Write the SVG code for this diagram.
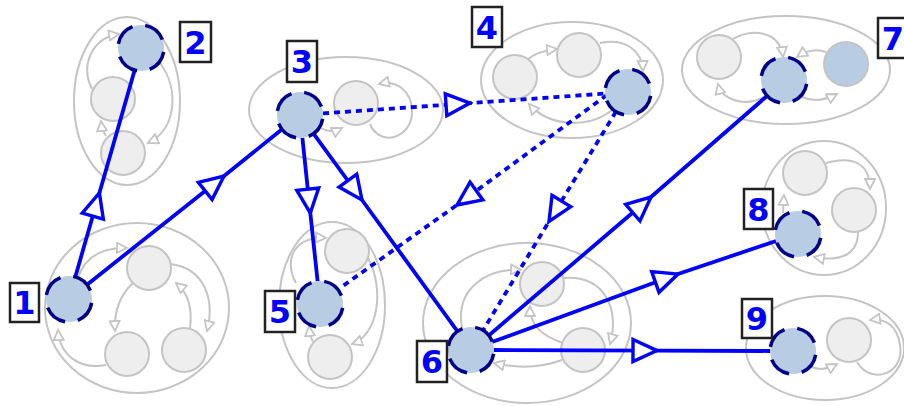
<svg xmlns="http://www.w3.org/2000/svg" width="904" height="406" viewBox="0 0 904 406">
<style>
.cl{fill:none;stroke:#c4c4c4;stroke-width:2}
.gn{fill:#eeeeee;stroke:#c4c4c4;stroke-width:2}
.bn{fill:#b8cce4;stroke:#c4c4c4;stroke-width:2}
.hn{fill:#b8cce4;stroke:#00008b;stroke-width:3.5;stroke-dasharray:23 13}
.ie{fill:none;stroke:#c4c4c4;stroke-width:2;marker-end:url(#ga)}
.e{fill:none;stroke:#0000ff;stroke-width:3.8;marker-mid:url(#ba)}
.d{stroke-dasharray:6 5}
.lb{fill:#ffffff;stroke:#222222;stroke-width:2.5}
.lt{fill:#0000ff;font-family:"DejaVu Sans",sans-serif;font-weight:bold;font-size:32px;text-anchor:middle}
</style>
<defs>
<marker id="ga" markerUnits="userSpaceOnUse" viewBox="-1 -1 13 12" markerWidth="13" markerHeight="12" refX="10" refY="5" orient="auto">
<path d="M0,0 L10,5 L0,10 z" fill="#ffffff" stroke="#c4c4c4" stroke-width="1.8"/>
</marker>
<marker id="ba" markerUnits="userSpaceOnUse" viewBox="-28 -15 31 30" markerWidth="31" markerHeight="30" refX="0" refY="0" orient="auto">
<path d="M-24,-11 L0,0 L-24,11 z" fill="#ffffff" stroke="#0000ff" stroke-width="3.4" stroke-linejoin="miter"/>
</marker>
</defs>
<rect width="904" height="406" fill="#ffffff"/>
<g id="clusters">
<ellipse class="cl" cx="137" cy="308" rx="92" ry="85"/>
<ellipse class="cl" cx="127" cy="101" rx="53" ry="84"/>
<ellipse class="cl" cx="346" cy="110" rx="97" ry="53"/>
<ellipse class="cl" cx="572" cy="80" rx="91" ry="58"/>
<ellipse class="cl" cx="332" cy="305" rx="53" ry="83"/>
<ellipse class="cl" cx="527" cy="323" rx="104" ry="80"/>
<ellipse class="cl" cx="786" cy="70" rx="104" ry="54"/>
<ellipse class="cl" cx="824" cy="208" rx="62" ry="67"/>
<ellipse class="cl" cx="825" cy="348" rx="79" ry="52"/>
</g>
<g id="inner-connectors">
<path class="ie" d="M78,278 Q88,247 127,248"/>
<path class="ie" d="M170,264 C205,268 215,300 207,331"/>
<path class="ie" d="M190,328 C193,305 187,292 176,283"/>
<path class="ie" d="M133,283 C120,295 114,310 115,331"/>
<path class="ie" d="M106,365 C80,370 60,356 58,330"/>
<path class="ie" d="M92,89 C80,65 92,38 119,34"/>
<path class="ie" d="M160,63 C180,90 176,130 148,143"/>
<path class="ie" d="M106,136 Q102,130 101,121"/>
<path class="ie" d="M321,128 Q330,134 342,128"/>
<path class="ie" d="M370,124 C380,148 412,138 412,112 C412,90 396,80 379,84"/>
<path class="ie" d="M527,60 Q537,51 557,49"/>
<path class="ie" d="M600,43 C625,38 642,50 643,71"/>
<path class="ie" d="M612,110 C590,128 550,128 529,104"/>
<path class="ie" d="M296,283 C284,262 292,236 326,238"/>
<path class="ie" d="M368,258 C385,290 378,335 352,344"/>
<path class="ie" d="M313,342 Q310,336 309,326"/>
<path class="ie" d="M462,328 C455,290 485,268 521,270"/>
<path class="ie" d="M564,278 C605,275 620,310 610,344"/>
<path class="ie" d="M562,360 C540,368 515,368 494,363"/>
<path class="ie" d="M563,343 C540,335 530,325 530,306"/>
<path class="ie" d="M733,39 C750,28 780,30 783,57"/>
<path class="ie" d="M766,96 C745,108 722,100 718,84"/>
<path class="ie" d="M826,52 Q812,47 797,57"/>
<path class="ie" d="M802,97 Q818,104 837,94"/>
<path class="ie" d="M826,163 C855,155 870,165 870,189"/>
<path class="ie" d="M858,232 C858,255 840,262 814,257"/>
<path class="ie" d="M783,213 L784,195"/>
<path class="ie" d="M812,367 Q822,372 837,364"/>
<path class="ie" d="M857,362 C870,385 905,375 900,345 C897,325 885,318 870,320"/>
</g>
<g id="gray-nodes">
<g id="n1a"><circle class="gn" cx="149" cy="268" r="22"/></g>
<g id="n1b"><circle class="gn" cx="127" cy="354" r="22"/></g>
<g id="n1c"><circle class="gn" cx="184" cy="350" r="22"/></g>
<g id="n2a"><circle class="gn" cx="113" cy="99" r="22"/></g>
<g id="n2b"><circle class="gn" cx="123" cy="153" r="22"/></g>
<g id="n3a"><circle class="gn" cx="356" cy="103" r="22"/></g>
<g id="n4a"><circle class="gn" cx="515" cy="77" r="22"/></g>
<g id="n4b"><circle class="gn" cx="579" cy="55" r="22"/></g>
<g id="n5a"><circle class="gn" cx="347" cy="251" r="22"/></g>
<g id="n5b"><circle class="gn" cx="330" cy="357" r="22"/></g>
<g id="n6a"><circle class="gn" cx="542" cy="284" r="22"/></g>
<g id="n6b"><circle class="gn" cx="583" cy="350" r="22"/></g>
<g id="n7a"><circle class="gn" cx="719" cy="57" r="22"/></g>
<g id="n7b"><circle class="bn" cx="846" cy="64" r="22"/></g>
<g id="n8a"><circle class="gn" cx="805" cy="173" r="22"/></g>
<g id="n8b"><circle class="gn" cx="854" cy="210" r="22"/></g>
<g id="n9a"><circle class="gn" cx="849" cy="340" r="22"/></g>
</g>
<g id="connectors">
<polyline class="e" points="75.3,276.9 99.4,193 134.7,70.1"/>
<polyline class="e" points="87,284.7 224,176 282,129.3"/>
<polyline class="e" points="302.4,137.9 310.3,213 317.6,281.1"/>
<polyline class="e" points="313.5,133.6 362,200 457.5,331.4"/>
<polyline class="e d" points="323,113.4 470,103.1 605,93.6"/>
<polyline class="e d" points="607,95 457,205 340,288"/>
<polyline class="e d" points="616,111.6 549,221.5 483,330.4"/>
<polyline class="e" points="487,337 651,197 767,96"/>
<polyline class="e" points="492,342 678,274 776,241"/>
<polyline class="e" points="494,350 657,350.6 770,351"/>
</g>
<g id="node1"><circle class="hn" cx="69" cy="299" r="23" stroke-dashoffset="-4"/><rect class="lb" x="10" y="283" width="29" height="39"/><text class="lt" x="24.5" y="314">1</text></g>
<g id="node2"><circle class="hn" cx="141" cy="48" r="23" stroke-dashoffset="-4"/><rect class="lb" x="180" y="22" width="31" height="40"/><text class="lt" x="195.5" y="54">2</text></g>
<g id="node3"><circle class="hn" cx="300" cy="115" r="23" stroke-dashoffset="-4"/><rect class="lb" x="287" y="41" width="30" height="41"/><text class="lt" x="302" y="73">3</text></g>
<g id="node4"><circle class="hn" cx="628" cy="92" r="23" stroke-dashoffset="-4"/><rect class="lb" x="472" y="7" width="30" height="40"/><text class="lt" x="487" y="39">4</text></g>
<g id="node5"><circle class="hn" cx="320" cy="304" r="23" stroke-dashoffset="-4"/><rect class="lb" x="265" y="291" width="30" height="41"/><text class="lt" x="280" y="323">5</text></g>
<g id="node6"><circle class="hn" cx="471" cy="350" r="23" stroke-dashoffset="-4"/><rect class="lb" x="417" y="341" width="30" height="41"/><text class="lt" x="432" y="373">6</text></g>
<g id="node7"><circle class="hn" cx="784" cy="80" r="23" stroke-dashoffset="-4"/><rect class="lb" x="878" y="18" width="30" height="40"/><text class="lt" x="893" y="50">7</text></g>
<g id="node8"><circle class="hn" cx="798" cy="234" r="23" stroke-dashoffset="-4"/><rect class="lb" x="744" y="189" width="29" height="40"/><text class="lt" x="758.5" y="221">8</text></g>
<g id="node9"><circle class="hn" cx="793" cy="351" r="23" stroke-dashoffset="-4"/><rect class="lb" x="742" y="299" width="30" height="39"/><text class="lt" x="757" y="330">9</text></g>
</svg>
